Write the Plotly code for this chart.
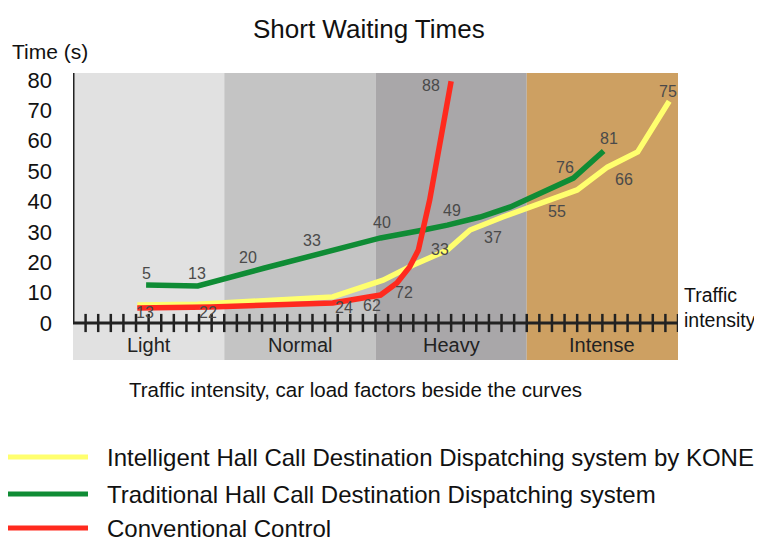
import plotly.graph_objects as go

# ---------------- data ----------------
bands = ["Light", "Normal", "Heavy", "Intense"]
band_edges = [0, 12, 24, 36, 48]
band_colors = ["#e1e1e1", "#c4c4c4", "#a9a7a9", "#cda062"]

y_ticks = [0, 10, 20, 30, 40, 50, 60, 70, 80]
x_minor_ticks = list(range(1, 49))

series_names = [
    "Intelligent Hall Call Destination Dispatching system by KONE",
    "Traditional Hall Call Destination Dispatching system",
    "Conventional Control",
]
series_colors = ["#ffff6e", "#0f8c35", "#ff2a1e"]

kone_x = [5.1, 9.9, 20.6, 24.6, 27.0, 29.7, 31.5, 34.1, 40.0, 42.4, 44.8, 47.3]
kone_y = [5.9, 6.2, 8.6, 14.1, 19.1, 24.0, 30.6, 34.9, 43.8, 51.3, 56.3, 73.0]

trad_x = [5.8, 9.9, 15.2, 19.4, 24.4, 27.8, 29.7, 32.3, 34.7, 39.7, 42.1]
trad_y = [12.5, 12.2, 18.1, 22.7, 28.0, 30.6, 32.2, 34.9, 38.2, 47.7, 56.6]

conv_x = [5.1, 10.9, 20.6, 24.4, 25.7, 26.7, 27.4, 27.8, 28.3, 30.0]
conv_y = [4.9, 5.3, 6.6, 9.2, 13.2, 18.4, 24.0, 30.6, 40.5, 79.6]

# car load factors printed beside the curves
trad_labels = ["5", "13", "20", "33", "40", "49", "76", "81"]
trad_lx = [5.8, 9.8, 13.9, 19.0, 24.5, 30.1, 39.0, 42.5]
trad_ly = [16.2, 16.2, 21.5, 27.3, 33.0, 37.0, 51.2, 60.9]

kone_labels = ["13", "22", "24", "33", "37", "55", "66", "75"]
kone_lx = [5.7, 10.7, 21.5, 29.1, 33.3, 38.4, 43.7, 47.2]
kone_ly = [3.6, 3.6, 5.0, 24.3, 28.3, 36.8, 47.4, 76.3]

conv_labels = ["62", "72", "88"]
conv_lx = [23.7, 26.3, 28.4]
conv_ly = [5.9, 10.2, 78.3]

# ---------------- layout geometry ----------------
OFF = 8                      # page body margin in the browser
W, H = 762 - OFF, 541 - OFF
L, R, T, B = 73, 678, 73, 360   # plot area in screenshot pixels
Y_MIN, Y_MAX = -12.18, 82.3
FONT = "Liberation Sans, Arial, sans-serif"


def px(xp):
    return (xp - L) / (R - L)


def py(yp):
    return (B - yp) / (B - T)


fig = go.Figure()

for name, xs, ys, col in [
    (series_names[0], kone_x, kone_y, series_colors[0]),
    (series_names[1], trad_x, trad_y, series_colors[1]),
    (series_names[2], conv_x, conv_y, series_colors[2]),
]:
    fig.add_trace(go.Scatter(x=xs, y=ys, mode="lines", name=name,
                             line=dict(color=col, width=5.5),
                             showlegend=False, hoverinfo="skip"))

# tick marks crossing the horizontal axis
fig.add_trace(go.Scatter(
    x=x_minor_ticks, y=[0] * len(x_minor_ticks), mode="markers",
    marker=dict(symbol="line-ns", size=13, line=dict(width=2.5, color="#222")),
    showlegend=False, hoverinfo="skip"))

shapes = []
for i in range(len(bands)):
    shapes.append(dict(type="rect", xref="x", yref="paper",
                       x0=band_edges[i], x1=band_edges[i + 1], y0=0, y1=1,
                       fillcolor=band_colors[i], line=dict(width=0), layer="below"))
# axes lines
shapes.append(dict(type="line", xref="x", yref="y", x0=0, x1=48, y0=0, y1=0,
                   line=dict(color="#222", width=3)))
shapes.append(dict(type="line", xref="x", yref="y", x0=0, x1=0, y0=0, y1=Y_MAX,
                   line=dict(color="#222", width=3)))

# manual legend lines
legend_y = [457, 494, 528]
for col, yy in zip(series_colors, legend_y):
    shapes.append(dict(type="line", xref="paper", yref="paper",
                       x0=px(8), x1=px(88), y0=py(yy), y1=py(yy),
                       line=dict(color=col, width=5)))

ann = []
label_font = dict(family=FONT, size=16, color="#4a4a4a")
for labs, lx, ly in [(trad_labels, trad_lx, trad_ly),
                     (kone_labels, kone_lx, kone_ly),
                     (conv_labels, conv_lx, conv_ly)]:
    for t, x, y in zip(labs, lx, ly):
        ann.append(dict(x=x, y=y, xref="x", yref="y", text=t, showarrow=False,
                        xanchor="center", yanchor="middle", font=label_font))

for i, b in enumerate(bands):
    ann.append(dict(x=(band_edges[i] + band_edges[i + 1]) / 2, y=-7.2,
                    xref="x", yref="y", text=b, showarrow=False,
                    xanchor="center", yanchor="middle",
                    font=dict(family=FONT, size=20, color="#222")))


def paper_text(x, y, text, size, xanchor="center", align="center"):
    return dict(x=px(x), y=py(y), xref="paper", yref="paper", text=text,
                showarrow=False, xanchor=xanchor, yanchor="middle", align=align,
                font=dict(family=FONT, size=size, color="#111"))


ann.append(paper_text(369, 29, "Short Waiting Times", 26))
ann.append(paper_text(50, 52, "Time (s)", 21))
ann.append(paper_text(682, 307, "Traffic<br>intensity", 19.5, xanchor="left", align="left"))
ann.append(paper_text(355, 389, "Traffic intensity, car load factors beside the curves", 20.5))
for name, yy in zip(series_names, legend_y):
    ann.append(paper_text(105, yy, name, 24, xanchor="left", align="left"))

fig.update_layout(
    width=W, height=H,
    margin=dict(l=L - OFF, r=W - (R - OFF), t=T - OFF, b=H - (B - OFF), pad=0),
    paper_bgcolor="white", plot_bgcolor="white",
    shapes=shapes, annotations=ann,
    xaxis=dict(range=[0, 48], visible=False),
    yaxis=dict(range=[Y_MIN, Y_MAX], tickvals=y_ticks, showgrid=False,
               zeroline=False, showline=False, ticks="",
               ticklabelstandoff=20,
               tickfont=dict(family=FONT, size=22, color="#111")),
    showlegend=False,
)

fig.write_html("out.html")
